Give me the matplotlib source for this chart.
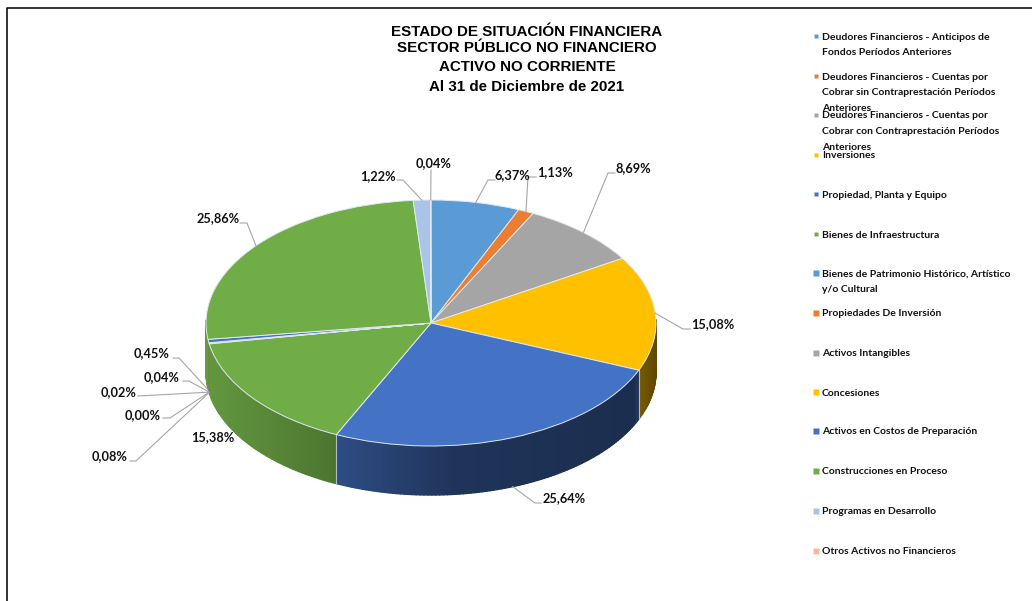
import numpy as np
import matplotlib
matplotlib.use("Agg")
import matplotlib.pyplot as plt
from matplotlib.collections import PolyCollection
from matplotlib.colors import to_rgb

# data
categorias = [
    "Deudores Financieros - Anticipos de\nFondos Períodos Anteriores",
    "Deudores Financieros - Cuentas por\nCobrar sin Contraprestación Períodos\nAnteriores",
    "Deudores Financieros - Cuentas por\nCobrar con Contraprestación Períodos\nAnteriores",
    "Inversiones",
    "Propiedad, Planta y Equipo",
    "Bienes de Infraestructura",
    "Bienes de Patrimonio Histórico, Artístico\ny/o Cultural",
    "Propiedades De Inversión",
    "Activos Intangibles",
    "Concesiones",
    "Activos en Costos de Preparación",
    "Construcciones en Proceso",
    "Programas en Desarrollo",
    "Otros Activos no Financieros",
]
valores = [6.37, 1.13, 8.69, 15.08, 25.64, 15.38, 0.08, 0.00, 0.02, 0.04, 0.45, 25.86, 1.22, 0.04]
titulo = ["ESTADO DE SITUACIÓN FINANCIERA", "SECTOR PÚBLICO NO FINANCIERO",
          "ACTIVO NO CORRIENTE", "Al 31 de Diciembre de 2021"]

colores = ["#5B9BD5", "#ED7D31", "#A5A5A5", "#FFC000", "#4472C4", "#70AD47", "#5B9BD5",
           "#ED7D31", "#A5A5A5", "#FFC000", "#4472C4", "#70AD47", "#A9C4E6", "#F4B9A2"]

# layout in pixels of the 1032x601 picture
W, H = 1032, 601
CX, CY, RX, RY = 431, 323, 225, 123
DEPTH = 49
# label text position (left edge, middle), leader elbow and the short tail from elbow to label
label_pos = [(495, 175), (537, 172), (616, 168), (691, 324), (543, 498), (191, 437), (92, 456),
             (125, 415), (101, 392), (144, 377), (134, 353), (197, 218), (360, 176), (416, 163)]
elbow_pos = [(488, 180), (528, 177), (608, 173), (683, 329), (535, 503), None, (136, 461),
             (170, 418), (138, 396), (189, 381), (179, 358), (247, 223), (403, 180), (431, 170)]
tail_len = [7, 8, 7, 7, 6, 0, -6, -7, 0, -6, -6, -7, -6, 0]
legend_y = [36, 76, 115, 155, 194, 234, 273, 313, 353, 392, 431, 471, 511, 551]
titulo_y = [31.5, 48.5, 67, 87]


def ux(px):
    return (px - CX) / RX


def uy(py):
    return (CY - py) / RY


fig = plt.figure(figsize=(W / 100, H / 100), dpi=100, facecolor="white")
ax = fig.add_axes([0, 0, 1, 1])

cum = np.cumsum([0] + valores)
ang = 90 - cum * 3.6  # clockwise from the top

# walls of the front half, shaded along the arc
polys, fcols = [], []
for i, col in enumerate(colores):
    a0, a1 = ang[i], ang[i + 1]
    n = max(int(abs(a0 - a1)), 1)
    t = np.radians(np.linspace(a0, a1, n + 1))
    base = np.array(to_rgb(col))
    for j in range(n):
        if np.sin(t[j]) > 0.02 and np.sin(t[j + 1]) > 0.02:
            continue
        xs = np.cos(t[j:j + 2])
        ys = np.sin(t[j:j + 2])
        polys.append([(xs[0], ys[0]), (xs[1], ys[1]),
                      (xs[1], ys[1] - DEPTH / RY), (xs[0], ys[0] - DEPTH / RY)])
        f = np.interp(xs[0], [-1, -0.42, 0.1, 0.9, 0.92, 1], [0.88, 0.68, 0.46, 0.40, 0.48, 0.37])
        fcols.append(tuple(base * f))
ax.add_collection(PolyCollection(polys, facecolors=fcols, edgecolors=fcols, linewidths=1.0, zorder=1))

# seams between the walls
for k in (4, 5):
    t = np.radians(ang[k])
    ax.plot([np.cos(t)] * 2, [np.sin(t), np.sin(t) - DEPTH / RY], color="#aebcc4", lw=0.8, zorder=2)

# top face
ax.pie(valores, colors=colores, startangle=90, counterclock=False, radius=1, center=(0, 0),
       wedgeprops=dict(edgecolor="#dfe8ef", linewidth=0.7))
ax.set_aspect("auto")
ax.set_xlim(ux(0), ux(W))
ax.set_ylim(uy(H), uy(0))
ax.set_axis_off()
for ch in ax.patches:
    ch.set_zorder(3)

# labels and leaders
etq = dict(family="Lato", weight="bold", color="#111111", fontsize=9.2, va="center", ha="left", zorder=6)
for i, v in enumerate(valores):
    x, y = label_pos[i]
    ax.text(ux(x), uy(y), f"{v:.2f}%".replace(".", ","), **etq)
    if elbow_pos[i] is None:
        continue
    t = np.radians((ang[i] + ang[i + 1]) / 2)
    sx, sy = np.cos(t), np.sin(t)
    if sy < 0:  # leader starts at the bottom of the wall
        sy -= DEPTH / RY
    ex, ey = elbow_pos[i]
    ax.plot([sx, ux(ex), ux(ex + tail_len[i])], [sy, uy(ey), uy(ey)], color="#a6a6a6", lw=0.8, zorder=5)

# title, line by line because its spacing is uneven
for linea, y in zip(titulo, titulo_y):
    ax.text(ux(527), uy(y), linea, family="Liberation Sans", weight="bold", fontsize=10.9, color="#000000",
            ha="center", va="center", zorder=6)

# legend, placed by hand because the entries overlap in the reference
for i, nombre in enumerate(categorias):
    ms = 2.6 if i < 6 else 5
    ax.plot(ux(815.5), uy(legend_y[i]), marker="s", ms=ms, color=colores[i], mec="none", zorder=6)
    ax.text(ux(822), uy(legend_y[i] - 3.5), nombre, family="Lato", weight="bold", fontsize=7.5, color="#111111",
            ha="left", va="top", linespacing=1.94, zorder=6)

# chart frame, only left and top reach the picture
ax.plot([ux(7), ux(7), ux(W)], [uy(H), uy(8), uy(8)], color="#111111", lw=1.2, zorder=7)

fig.savefig("out.png", dpi=100)
